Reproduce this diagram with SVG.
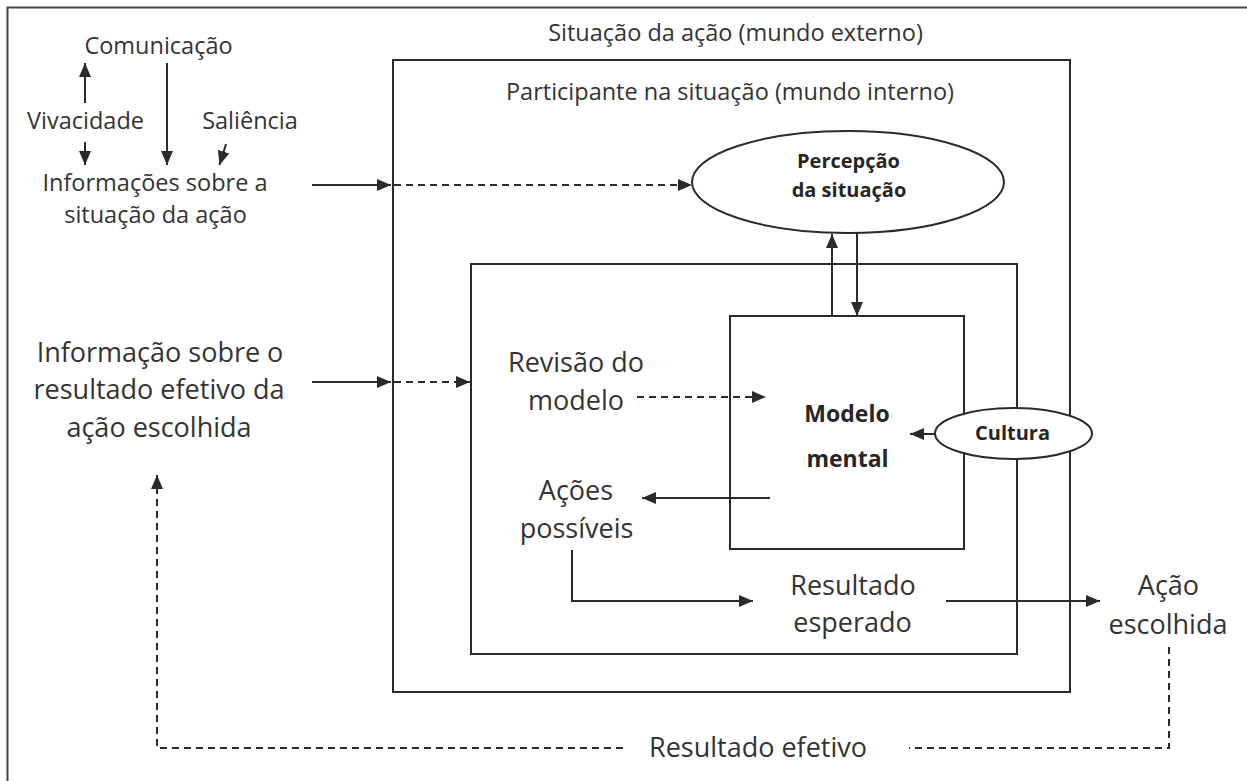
<svg xmlns="http://www.w3.org/2000/svg" width="1247" height="781" viewBox="0 0 1247 781">
<style>
  .t { font-family: "Open Sans", "Noto Sans", sans-serif; fill: #333; text-anchor: middle; }
  .s { font-size: 23.5px; }
  .l { font-size: 27px; }
  .b { font-weight: bold; fill: #262626; }
  .box { fill: none; stroke: #2a2a2a; stroke-width: 2; }
  .ell { fill: #fff; stroke: #2a2a2a; stroke-width: 2; }
  .c { fill: none; stroke: #2a2a2a; stroke-width: 2; }
  .d { stroke-dasharray: 7 5; }
  .a { marker-end: url(#ah); }
</style>
<defs>
  <marker id="ah" markerUnits="userSpaceOnUse" markerWidth="14" markerHeight="12" refX="14" refY="6" orient="auto">
    <path d="M0,0 L14,6 L0,12 z" fill="#2a2a2a"/>
  </marker>
</defs>
<rect width="1247" height="781" fill="#fff"/>
<path d="M7.5 781 V7.5 H1247" fill="none" stroke="#444" stroke-width="2"/>

<g id="situacao">
  <rect class="box" x="393" y="60" width="677" height="632"/>
  <text class="t s" x="735.5" y="41">Situação da ação (mundo externo)</text>
</g>
<g id="participante">
  <rect class="box" x="471" y="264" width="546" height="390"/>
  <text class="t s" x="730" y="100">Participante na situação (mundo interno)</text>
</g>
<g id="modelo-mental">
  <rect class="box" x="730" y="316" width="234" height="233"/>
  <text class="t b" style="font-size:23px" x="847" y="422">Modelo</text>
  <text class="t b" style="font-size:23px" x="847.5" y="467">mental</text>
</g>

<g id="connectors">
  <path class="c a" d="M85 103 V63"/>
  <path class="c a" d="M167 63 V165"/>
  <path class="c a" d="M85 142 V165"/>
  <path class="c a" d="M226 144 L219.5 165"/>
  <path class="c a" d="M312 185 H391"/>
  <path class="c d a" d="M394 185 H692"/>
  <path class="c a" d="M312 382 H391"/>
  <path class="c d a" d="M394 382 H470"/>
  <path class="c a" d="M832 316 V234"/>
  <path class="c a" d="M857 233 V316"/>
  <path class="c d a" d="M637 397 H766"/>
  <path class="c a" d="M935 434 H910"/>
  <path class="c a" d="M770 498 H642"/>
  <path class="c a" d="M572 550 V601 H753"/>
  <path class="c a" d="M946 601 H1100"/>
  <path class="c d" d="M1169 647 V748 H909"/>
  <path class="c d a" d="M623 748 H157 V475"/>
</g>

<g id="percepcao">
  <ellipse class="ell" cx="848" cy="182" rx="156" ry="51"/>
  <text class="t b" style="font-size:20px" x="848.5" y="168">Percepção</text>
  <text class="t b" style="font-size:20px" x="849" y="197">da situação</text>
</g>
<g id="cultura">
  <ellipse class="ell" cx="1013.5" cy="433.5" rx="78.5" ry="25.5"/>
  <text class="t b" style="font-size:20px" x="1012.5" y="440">Cultura</text>
</g>

<g id="comunicacao"><text class="t s" x="158.5" y="54">Comunicação</text></g>
<g id="vivacidade"><text class="t s" x="85.5" y="129">Vivacidade</text></g>
<g id="saliencia"><text class="t s" x="250" y="129">Saliência</text></g>
<g id="informacoes">
  <text class="t s" x="155" y="191">Informações sobre a</text>
  <text class="t s" x="155.5" y="223">situação da ação</text>
</g>
<g id="informacao-resultado">
  <text class="t l" x="160" y="362">Informação sobre o</text>
  <text class="t l" x="159" y="399">resultado efetivo da</text>
  <text class="t l" x="159" y="437">ação escolhida</text>
</g>
<g id="revisao">
  <text class="t l" x="576" y="372">Revisão do</text>
  <text class="t l" x="576" y="410">modelo</text>
</g>
<g id="acoes">
  <text class="t l" x="576" y="500">Ações</text>
  <text class="t l" x="576.5" y="538">possíveis</text>
</g>
<g id="resultado-esperado">
  <text class="t l" x="853" y="595">Resultado</text>
  <text class="t l" x="852.5" y="632">esperado</text>
</g>
<g id="acao-escolhida">
  <text class="t l" x="1168.5" y="595">Ação</text>
  <text class="t l" x="1168" y="634">escolhida</text>
</g>
<g id="resultado-efetivo"><text class="t l" x="758" y="757">Resultado efetivo</text></g>
</svg>
